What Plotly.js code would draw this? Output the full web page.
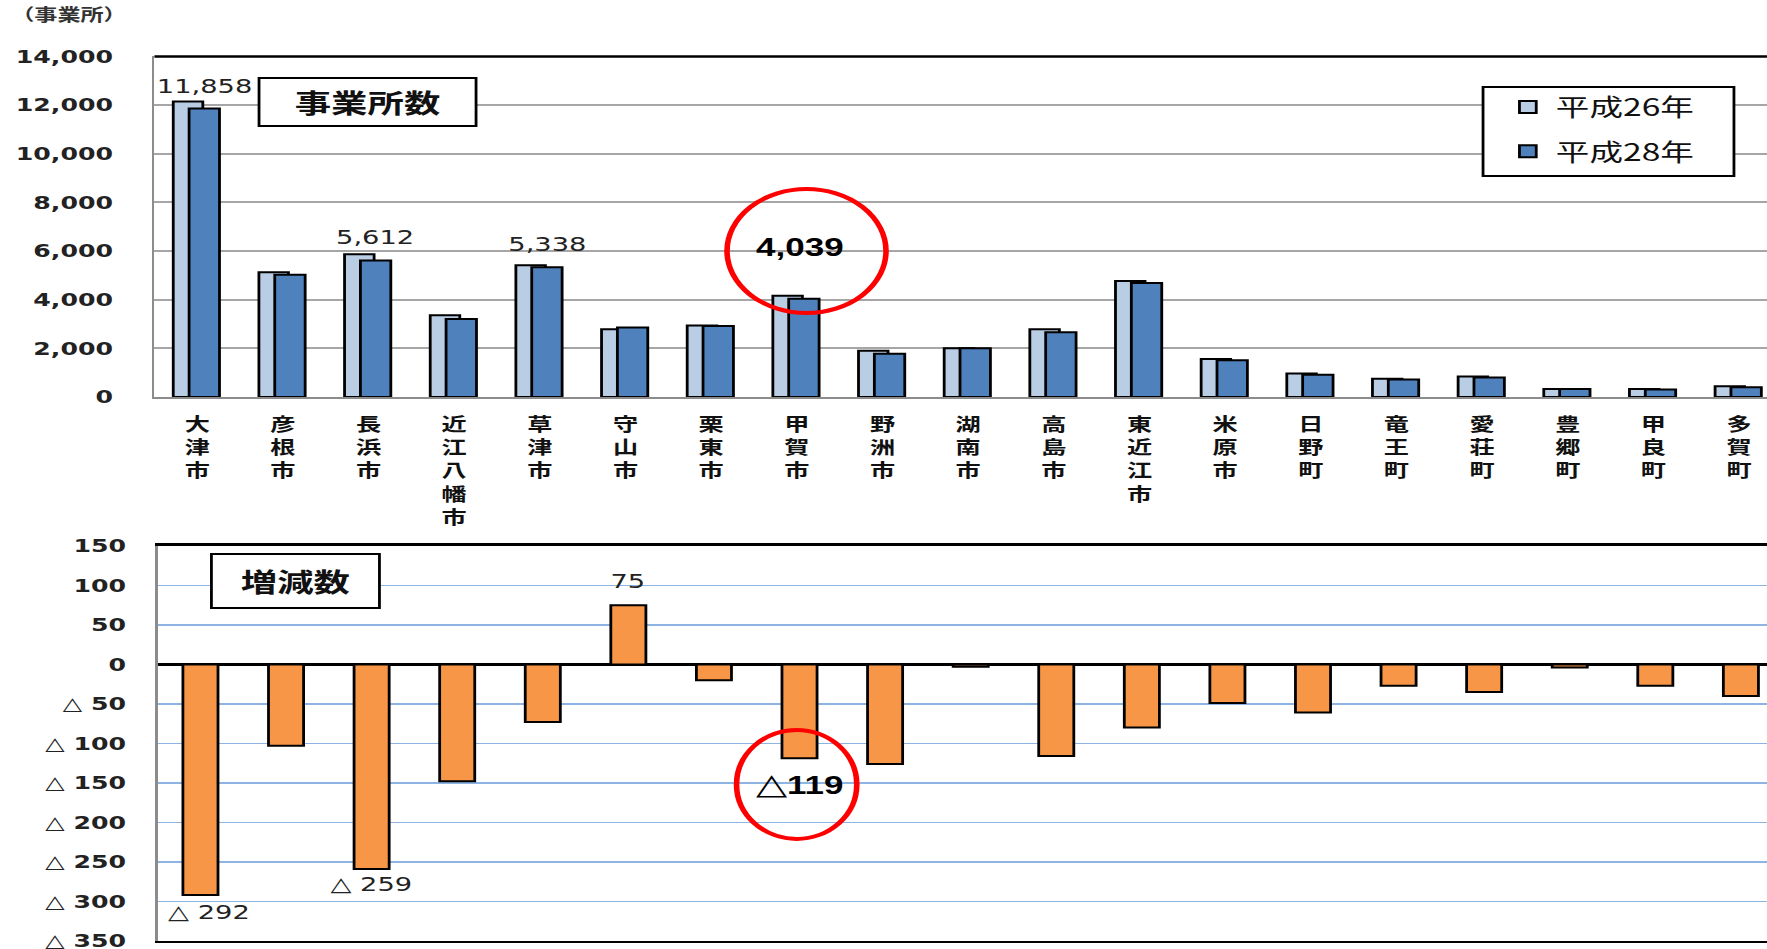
<!DOCTYPE html>
<html>
<head>
<meta charset="utf-8">
<script src="https://cdn.plot.ly/plotly-3.0.1.min.js"></script>
<style>
  html, body { margin: 0; padding: 0; background: #fff; overflow: hidden; }
  /* the source picture is stretched sideways, so the plot is drawn narrow and widened */
  #chart { width: 1262px; height: 949px; transform: scaleX(1.40016); transform-origin: 0 0; }
</style>
</head>
<body>
<div id="chart"></div>
<script>
// municipalities (x categories)
const cities = ['大津市', '彦根市', '長浜市', '近江八幡市', '草津市', '守山市', '栗東市', '甲賀市', '野洲市', '湖南市',
    '高島市', '東近江市', '米原市', '日野町', '竜王町', '愛荘町', '豊郷町', '甲良町', '多賀町'];

// number of establishments
const h26 = [12150, 5125, 5871, 3358, 5411, 2780, 2940, 4158, 1900, 2005, 2780, 4770, 1560, 970, 745, 840, 330, 330, 440];
const h28 = [11858, 5022, 5612, 3210, 5338, 2855, 2920, 4039, 1774, 2002, 2664, 4690, 1511, 909, 718, 805, 326, 303, 400];

// change H26 -> H28
const diff = [-292, -103, -259, -148, -73, 75, -20, -119, -126, -3, -116, -80, -49, -61, -27, -35, -4, -27, -40];

const seriesNames = ['平成26年', '平成28年'];
const yTicksTop = [0, 2000, 4000, 6000, 8000, 10000, 12000, 14000];
const yTicksBottom = [150, 100, 50, 0, -50, -100, -150, -200, -250, -300, -350];

// which bars carry a value label
const topLabelIdx = [0, 2, 4];
const bottomLabelIdx = [0, 2, 5];
const highlightIdx = 7;

const idx = cities.map((c, i) => i);
const fmtCount = v => v.toLocaleString('en-US');
const fmtDiff = v => v < 0 ? '△ ' + Math.abs(v) : String(v);

const tickFont = { family: 'DejaVu Sans', size: 18, weight: 'bold', color: '#222' };
const jpFont = 'Noto Sans CJK JP';
const boldNum = 'Liberation Sans, sans-serif';

// bar geometry (Excel style overlap)
const offA = -0.28, widA = 0.345;
const offB = -0.095, widB = 0.355;
const darkCenter = offB + widB / 2;

const traces = [
    {
        type: 'bar', x: idx, y: h26, name: seriesNames[0], legendgroup: 'a',
        offset: offA, width: widA,
        marker: { color: '#B9CDE5', line: { color: '#000', width: 2 } },
        xaxis: 'x', yaxis: 'y'
    },
    {
        type: 'bar', x: idx, y: h28, name: seriesNames[1], legendgroup: 'b',
        offset: offB, width: widB,
        marker: { color: '#4F81BD', line: { color: '#000', width: 2 } },
        xaxis: 'x', yaxis: 'y'
    },
    {
        type: 'bar', x: idx, y: diff, name: '増減数', showlegend: false,
        width: 0.41,
        marker: { color: '#F79646', line: { color: '#000', width: 2 } },
        xaxis: 'x2', yaxis: 'y2'
    }
];

const annotations = [];
topLabelIdx.forEach(i => {
    annotations.push({
        xref: 'x', yref: 'y', x: i + darkCenter, y: h28[i], yanchor: 'middle', yshift: 22.5,
        text: fmtCount(h28[i]), showarrow: false, font: { family: 'DejaVu Sans', size: 19.5, color: '#222' }
    });
});
annotations.push({
    xref: 'x', yref: 'y', x: highlightIdx + darkCenter, xshift: -3, y: h28[highlightIdx], yanchor: 'middle', yshift: 52,
    text: fmtCount(h28[highlightIdx]), showarrow: false,
    font: { family: boldNum, size: 25, weight: 'bold', color: '#000' }
});
bottomLabelIdx.forEach(i => {
    const v = diff[i];
    annotations.push({
        xref: 'x2', yref: 'y2', x: i, xshift: i === 0 ? 6 : 0, y: v, yanchor: 'middle',
        yshift: v > 0 ? 23.4 : (i === 0 ? -17.6 : -16),
        text: fmtDiff(v), showarrow: false, font: { family: 'DejaVu Sans', size: 19.5, color: '#222' }
    });
});
annotations.push({
    xref: 'x2', yref: 'y2', x: highlightIdx, y: diff[highlightIdx], yanchor: 'middle', yshift: -26,
    text: '<span style="font-size:29px">△</span><b>' + Math.abs(diff[highlightIdx]) + '</b>', showarrow: false,
    font: { family: boldNum, size: 25, color: '#000' }
});
// panel titles
annotations.push({
    xref: 'paper', yref: 'paper', x: 0.2083, y: 0.892, xanchor: 'center', yanchor: 'middle',
    text: '事業所数', showarrow: false, width: 150, height: 43, borderpad: 1.5,
    bgcolor: '#fff', bordercolor: '#000', borderwidth: 2,
    font: { family: jpFont, size: 26, weight: 'bold', color: '#111' }
});
annotations.push({
    xref: 'paper', yref: 'paper', x: 0.1672, y: 0.3873, xanchor: 'center', yanchor: 'middle',
    text: '増減数', showarrow: false, width: 115, height: 49, borderpad: 1.5,
    bgcolor: '#fff', bordercolor: '#000', borderwidth: 2,
    font: { family: jpFont, size: 26, weight: 'bold', color: '#111' }
});
annotations.push({
    xref: 'paper', yref: 'paper', x: 0.0045, y: 0.985, xanchor: 'left', yanchor: 'middle',
    text: '（事業所）', showarrow: false,
    font: { family: jpFont, size: 16.5, weight: 'bold', color: '#333' }
});

const shapes = [
    // black frame line on top of the upper panel
    { type: 'line', xref: 'x domain', yref: 'y domain', x0: 0, x1: 1, y0: 1, y1: 1, line: { color: '#000', width: 2.5 } },
    // legend frame
    { type: 'rect', xref: 'paper', yref: 'paper', x0: 0.8393, x1: 0.9813, y0: 0.8145, y1: 0.9083,
        fillcolor: '#fff', line: { color: '#000', width: 2 } },
    // red highlight rings
    { type: 'circle', xref: 'x', yref: 'y', x0: 6.185, x1: 8.041, y0: 3454, y1: 8553, line: { color: '#FF0000', width: 4 } },
    { type: 'circle', xref: 'x2', yref: 'y2', x0: 6.264, x1: 7.669, y0: -221, y1: -83, line: { color: '#FF0000', width: 4 } }
];

const layout = {
    width: 1262,
    height: 949,
    margin: { l: 0, r: 0, t: 0, b: 0 },
    paper_bgcolor: '#fff',
    plot_bgcolor: '#fff',
    barmode: 'overlay',
    showlegend: true,
    legend: {
        x: 0.8393, y: 0.9105, xanchor: 'left', yanchor: 'top',
        bgcolor: 'rgba(0,0,0,0)', borderwidth: 0,
        font: { family: jpFont, size: 24, color: '#111' },
        traceorder: 'grouped', tracegroupgap: 10, itemwidth: 30, indentation: 12
    },
    xaxis: {
        domain: [0.08738, 1], range: [-0.5, 18.326], anchor: 'y',
        tickvals: idx, ticktext: cities.map(c => c.split('').join('<br>')),
        tickfont: { family: jpFont, size: 18, weight: 'bold', color: '#111' },
        ticks: '', ticklabelstandoff: 10,
        showline: true, linecolor: '#8c8c8c', linewidth: 2,
        showgrid: false, zeroline: false
    },
    yaxis: {
        domain: [0.5817, 0.9405], range: [0, 14000], anchor: 'x',
        tickvals: yTicksTop, tickformat: ',d', tickfont: tickFont,
        ticks: '', ticklabelstandoff: 24,
        showline: true, linecolor: '#8c8c8c', linewidth: 2,
        gridcolor: '#a6a6a6', gridwidth: 2, zeroline: false
    },
    xaxis2: {
        domain: [0.08923, 1], range: [-0.5, 18.305], anchor: 'y2',
        showticklabels: false, ticks: '',
        showline: true, mirror: true, linecolor: '#000', linewidth: 2.5,
        showgrid: false, zeroline: false
    },
    yaxis2: {
        domain: [0.0087, 0.4247], range: [-350, 150], anchor: 'x2',
        tickvals: yTicksBottom, ticktext: yTicksBottom.map(fmtDiff), tickfont: tickFont,
        ticks: '', ticklabelstandoff: 17, ticklabeloverflow: 'allow',
        showline: true, linecolor: '#8c8c8c', linewidth: 2,
        gridcolor: '#8DB4E2', gridwidth: 1.5,
        zeroline: true, zerolinecolor: '#000', zerolinewidth: 2.5
    },
    annotations: annotations,
    shapes: shapes
};

Plotly.newPlot('chart', traces, layout, { staticPlot: true, displayModeBar: false });
</script>
</body>
</html>
